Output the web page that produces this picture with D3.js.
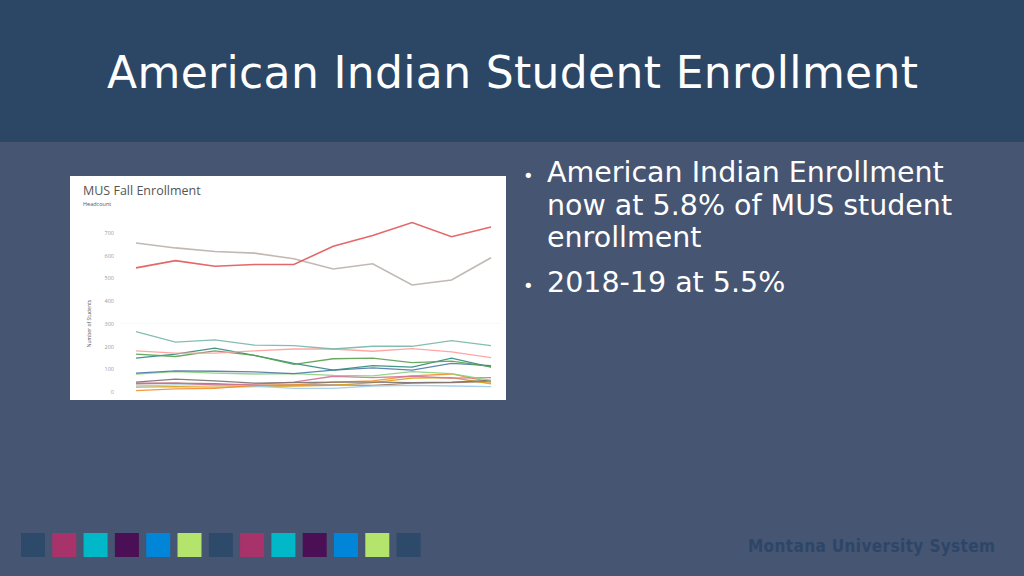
<!DOCTYPE html>
<html><head><meta charset="utf-8">
<script src="https://cdn.jsdelivr.net/npm/d3@7"></script>
<style>body{margin:0;background:#465571;overflow:hidden}</style>
</head><body><div id="container"></div>
<script>
/* CONSTANTS AND GLOBALS */
const width = 1024, height = 576;

/* DATA */
const years = ["2009","2010","2011","2012","2013","2014","2015","2016","2017","2018"];
const seriesNames = ["Red","Gray","Teal","Pink","Green","DarkTeal","Blue","LightGreen","Purple","Magenta","Orange","LightBlue","Gold","Brown"];
const seriesColors = ["#e15759","#bab0ac","#76b7a8","#ff9d9a","#59a14f","#2f8a7a","#4e79a7","#8cd17d","#79706e","#d37295","#f28e2b","#a0cbe8","#d4a017","#9d7660"];
const red = [545,577,552,560,560,640,688,745,682,725];
const gray = [655,633,617,610,585,540,563,470,492,590];
const teal = [265,218,228,205,203,188,200,200,225,203];
const pink = [180,170,170,180,188,188,178,190,175,150];
const green = [165,155,180,160,120,145,148,128,135,110];
const darkTeal = [148,165,192,160,125,95,115,108,148,108];
const blue = [82,92,90,87,80,95,105,95,125,115];
const lightGreen = [78,88,82,78,80,72,70,88,80,50];
const purple = [42,55,48,38,40,42,42,40,42,50];
const magenta = [38,38,30,33,42,68,62,68,60,62];
const orange = [5,12,15,28,30,42,48,70,78,42];
const lightBlue = [25,30,30,25,15,15,25,28,25,22];
const gold = [20,22,20,22,25,28,40,60,62,35];
const brown = [35,38,35,28,30,30,28,38,40,45];
const allSeries = [red,gray,teal,pink,green,darkTeal,blue,lightGreen,purple,magenta,orange,lightBlue,gold,brown];
const yTicks = [0,100,200,300,400,500,600,700];
const bullets = [["American Indian Enrollment","now at 5.8% of MUS student","enrollment"],["2018-19 at 5.5%"]];
const squareColors = ["#2d4a6a","#a8336b","#00b8c8","#4a0f55","#0085d8","#b4e46c","#2d4a6a","#a8336b","#00b8c8","#4a0f55","#0085d8","#b4e46c","#2d4a6a"];

const svg = d3.select("#container").append("svg")
  .attr("width", width).attr("height", height)
  .style("font-family", "'Century Gothic','DejaVu Sans',sans-serif");

/* BACKGROUND */
svg.append("rect").attr("width", width).attr("height", height).attr("fill", "#465571");
svg.append("rect").attr("width", width).attr("height", 142).attr("fill", "#2c4665");
svg.append("text").attr("x", 107).attr("y", 88).attr("fill", "white")
  .attr("font-size", 44).attr("textLength", 811).text("American Indian Student Enrollment");

/* BULLETS */
let by = 182;
bullets.forEach(lines => {
  svg.append("text").attr("x", 523).attr("y", by).attr("fill", "white").attr("font-size", 18).text("•");
  lines.forEach(l => {
    svg.append("text").attr("x", 547).attr("y", by).attr("fill", "white").attr("font-size", 28.5).text(l);
    by += 32.5;
  });
  by += 12;
});

/* CHART BOX */
svg.append("rect").attr("x", 70).attr("y", 176).attr("width", 436).attr("height", 224).attr("fill", "white");
svg.append("text").attr("x", 83).attr("y", 195).attr("fill", "#555").attr("font-size", 12.5)
  .style("font-family", "'Open Sans',sans-serif").text("MUS Fall Enrollment");
svg.append("text").attr("x", 83).attr("y", 206).attr("fill", "#555").attr("font-size", 5.5)
  .style("font-family", "'Open Sans',sans-serif").text("Headcount");

const xScale = d3.scalePoint().domain(years).range([136, 491]);
const yScale = d3.scaleLinear().domain([0, 700]).range([391.7, 232.7]);

const yAxis = d3.axisLeft(yScale).tickValues(yTicks).tickSize(0).tickPadding(4);
const gy = svg.append("g").attr("transform", "translate(118,0)").call(yAxis);
gy.select(".domain").remove();
gy.selectAll("text").attr("fill", "#999").attr("font-size", 5.5).attr("text-anchor", "end")
  .style("font-family", "'Open Sans',sans-serif");
svg.append("line").attr("x1", 120).attr("x2", 500).attr("y1", yScale(300)).attr("y2", yScale(300))
  .attr("stroke", "#f2f2f2").attr("stroke-width", 0.6);
svg.append("text").attr("transform", `translate(91,${yScale(300)}) rotate(-90)`)
  .attr("text-anchor", "middle").attr("fill", "#555").attr("font-size", 5)
  .style("font-family", "'Open Sans',sans-serif").text("Number of Students");

const line = d3.line().x((d, i) => xScale(years[i])).y(d => yScale(d));
svg.selectAll(".series").data(allSeries.slice().reverse()).join("path")
  .attr("class", "series")
  .attr("d", line).attr("fill", "none")
  .attr("stroke", (d, i) => seriesColors[allSeries.length - 1 - i])
  .attr("stroke-width", (d, i) => allSeries.length - 1 - i < 2 ? 1.6 : 1.3)
  .attr("opacity", 0.9);

/* FOOTER */
svg.selectAll(".sq").data(squareColors).join("rect").attr("class", "sq")
  .attr("x", (d, i) => 21 + i * 31.3).attr("y", 533).attr("width", 24).attr("height", 24)
  .attr("fill", d => d);
svg.append("text").attr("x", 995).attr("y", 552).attr("text-anchor", "end")
  .attr("fill", "#2d4668").attr("font-size", 17).attr("font-weight", "bold")
  .attr("textLength", 247)
  .style("font-family", "'Liberation Sans Narrow','DejaVu Sans Condensed',sans-serif")
  .text("Montana University System");
</script></body></html>
